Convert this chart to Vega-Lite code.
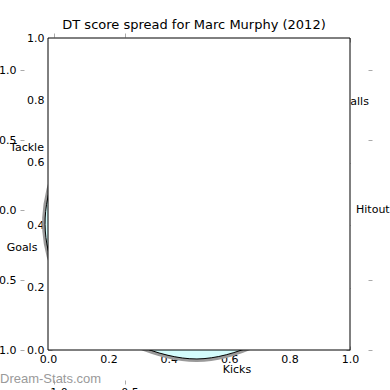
{
  "$schema": "https://vega.github.io/schema/vega-lite/v6.json",
  "width": 302,
  "height": 312,
  "autosize": {"type": "none"},
  "padding": {"left": 48, "top": 38, "right": 40, "bottom": 40},
  "background": "white",
  "title": {"text": "DT score spread for Marc Murphy (2012)", "font": "DejaVu Sans", "fontSize": 13, "fontWeight": "normal", "color": "black", "baseline": "alphabetic", "offset": -10, "dx": -5, "anchor": "middle"},
  "config": {
    "view": {"stroke": null},
    "axis": {"labelFont": "DejaVu Sans", "labelFontSize": 11, "labelColor": "black", "tickColor": "#aaaaaa", "tickWidth": 1, "domain": false, "grid": false, "labelFlush": false, "labelOverlap": false, "zindex": 1}
  },
  "datasets": {
    "radar": [
      {"i": 0, "x": 0.007, "y": -1.064},
      {"i": 1, "x": 0.775, "y": -0.714},
      {"i": 2, "x": 1.014, "y": 0.036},
      {"i": 3, "x": 0.732, "y": 0.750},
      {"i": 4, "x": 0.0, "y": 1.057},
      {"i": 5, "x": -0.732, "y": 0.750},
      {"i": 6, "x": -1.062, "y": -0.057},
      {"i": 7, "x": -0.796, "y": -0.729}
    ],
    "labels": [
      {"label": "Kicks", "x": 0.289, "y": -1.143},
      {"label": "Hitout", "x": 1.246, "y": 0.0},
      {"label": "Handballs", "x": 1.026, "y": 0.771},
      {"label": "Tackle", "x": -1.19, "y": 0.443},
      {"label": "Goals", "x": -1.225, "y": -0.271}
    ],
    "wm": [{"text": "Dream-Stats.com", "x": -1.38, "y": -1.236}],
    "box": [{"x0": 0, "x1": 1, "y0": 0, "y1": 1}]
  },
  "layer": [
    {
      "data": {"name": "radar"},
      "mark": {"type": "line", "interpolate": "cardinal-closed", "stroke": "#9a9a9a", "strokeWidth": 6, "clip": false},
      "encoding": {
        "x": {"field": "x", "type": "quantitative", "scale": {"domain": [-1.042, 1.085], "nice": false, "zero": false},
              "axis": {"orient": "top", "offset": 1, "values": [-1, -0.5], "labels": false, "tickSize": 4, "title": null}},
        "y": {"field": "y", "type": "quantitative", "scale": {"domain": [-1.0, 1.229], "nice": false, "zero": false},
              "axis": {"orient": "left", "offset": 28, "values": [-1, -0.5, 0, 0.5, 1], "ticks": false, "labelPadding": 4, "format": ".1f", "title": null}},
        "order": {"field": "i", "type": "quantitative"}
      }
    },
    {
      "data": {"name": "radar"},
      "mark": {"type": "line", "interpolate": "cardinal-closed", "stroke": "black", "strokeWidth": 1, "fill": "#d4fcfc", "clip": false},
      "encoding": {
        "x": {"field": "x", "type": "quantitative", "scale": {"domain": [-1.042, 1.085], "nice": false, "zero": false},
              "axis": {"orient": "bottom", "offset": 30, "values": [-1, -0.5], "labels": false, "tickSize": 4, "title": null}},
        "y": {"field": "y", "type": "quantitative", "scale": {"domain": [-1.0, 1.229], "nice": false, "zero": false},
              "axis": {"orient": "left", "offset": 24, "values": [-1, -0.5, 0, 0.5, 1], "labels": false, "tickSize": 4, "title": null}},
        "order": {"field": "i", "type": "quantitative"}
      }
    },
    {
      "data": {"name": "labels"},
      "mark": {"type": "text", "font": "DejaVu Sans", "fontSize": 11, "align": "center", "baseline": "middle", "color": "black", "clip": false},
      "encoding": {
        "x": {"field": "x", "type": "quantitative", "scale": {"domain": [-1.042, 1.085], "nice": false, "zero": false},
              "axis": {"orient": "bottom", "offset": 34, "values": [-1, -0.5], "ticks": false, "labelPadding": 2, "format": ".1f", "title": null}},
        "y": {"field": "y", "type": "quantitative", "scale": {"domain": [-1.0, 1.229], "nice": false, "zero": false},
              "axis": {"orient": "right", "offset": 18, "values": [-1, -0.5, 0.5, 1], "labels": false, "tickSize": 4, "title": null}},
        "text": {"field": "label", "type": "nominal"}
      }
    },
    {
      "data": {"name": "wm"},
      "mark": {"type": "text", "font": "Liberation Sans", "fontSize": 13, "align": "left", "baseline": "alphabetic", "color": "#9a9a9a", "clip": false},
      "encoding": {
        "x": {"field": "x", "type": "quantitative", "scale": {"domain": [-1.042, 1.085], "nice": false, "zero": false}, "axis": null},
        "y": {"field": "y", "type": "quantitative", "scale": {"domain": [-1.0, 1.229], "nice": false, "zero": false}, "axis": null},
        "text": {"field": "text", "type": "nominal"}
      }
    },
    {
      "data": {"name": "box"},
      "mark": {"type": "rect", "fill": "white", "stroke": "black", "strokeWidth": 1},
      "encoding": {
        "x": {"field": "x0", "type": "quantitative", "scale": {"domain": [0, 1], "nice": false, "zero": false},
              "axis": {"orient": "bottom", "values": [0, 0.2, 0.4, 0.6, 0.8, 1], "ticks": false, "labelPadding": 3, "format": ".1f", "title": null}},
        "x2": {"field": "x1"},
        "y": {"field": "y0", "type": "quantitative", "scale": {"domain": [0, 1], "nice": false, "zero": false},
              "axis": {"orient": "left", "values": [0, 0.2, 0.4, 0.6, 0.8, 1], "ticks": false, "labelPadding": 4, "format": ".1f", "title": null}},
        "y2": {"field": "y1"}
      }
    },
    {
      "data": {"name": "box"},
      "mark": {"type": "rect", "opacity": 0},
      "encoding": {
        "x": {"field": "x0", "type": "quantitative", "scale": {"domain": [0, 1], "nice": false, "zero": false},
              "axis": {"orient": "bottom", "offset": -4, "values": [0, 0.2, 0.4, 0.6, 0.8, 1], "labels": false, "tickSize": 4, "title": null}},
        "x2": {"field": "x1"},
        "y": {"field": "y0", "type": "quantitative", "scale": {"domain": [0, 1], "nice": false, "zero": false},
              "axis": {"orient": "left", "offset": -4, "values": [0, 0.2, 0.4, 0.6, 0.8, 1], "labels": false, "tickSize": 4, "title": null}},
        "y2": {"field": "y1"}
      }
    },
    {
      "data": {"name": "box"},
      "mark": {"type": "rect", "opacity": 0},
      "encoding": {
        "x": {"field": "x0", "type": "quantitative", "scale": {"domain": [0, 1], "nice": false, "zero": false},
              "axis": {"orient": "top", "offset": -4, "values": [0, 0.2, 0.4, 0.6, 0.8, 1], "labels": false, "tickSize": 4, "title": null}},
        "x2": {"field": "x1"},
        "y": {"field": "y0", "type": "quantitative", "scale": {"domain": [0, 1], "nice": false, "zero": false},
              "axis": {"orient": "right", "offset": -4, "values": [0, 0.2, 0.4, 0.6, 0.8, 1], "labels": false, "tickSize": 4, "title": null}},
        "y2": {"field": "y1"}
      }
    }
  ],
  "resolve": {
    "scale": {"x": "independent", "y": "independent"},
    "axis": {"x": "independent", "y": "independent"}
  }
}
